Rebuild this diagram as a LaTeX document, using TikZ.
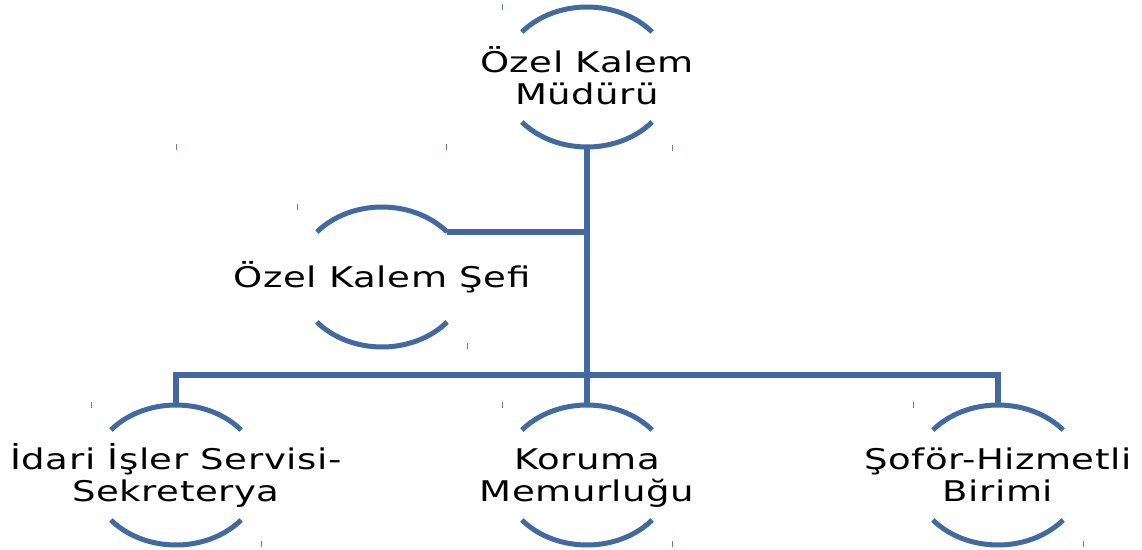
\documentclass[tikz,border=0pt]{standalone}
\usepackage{fontspec}
\setmainfont{DejaVu Sans}[FakeStretch=1.3,LetterSpace=2]
\usetikzlibrary{shapes.geometric}
\definecolor{ocblue}{RGB}{66,106,158}
\newcommand\hiph{\vphantom{Öİ}}
\newcommand\loph{\vphantom{yğ}}
\begin{document}
\begin{tikzpicture}[x=1pt,y=-1pt,
  unit/.style={ellipse, minimum width=170pt, minimum height=140pt, inner sep=0pt, draw=none},
  arcline/.style={draw=ocblue, line width=5pt},
  conn/.style={draw=ocblue, line width=6pt},
  lbl/.style={font=\fontsize{28.5pt}{32pt}\selectfont, align=center, inner sep=0pt, text=black},
  tickmark/.style={draw=ocblue!85, line width=1pt}]
\useasboundingbox (0,0) rectangle (1142,549);
% units
\node[unit] (top) at (587,77) {};
\node[unit] (chef) at (382,277) {};
\node[unit] (idari) at (176,475) {};
\node[unit] (koruma) at (587,475) {};
\node[unit] (sofor) at (998,475) {};
% arcs
\foreach \n in {top,chef,idari,koruma,sofor}{
  \draw[arcline] (\n.center) ++(220:85 and 70) arc[start angle=220,end angle=320,x radius=85,y radius=70];
  \draw[arcline] (\n.center) ++(40:85 and 70) arc[start angle=40,end angle=140,x radius=85,y radius=70];
}
% labels
\node[lbl] (topL) at ([yshift=-1pt]top.center) {\hiph Özel Kalem\\\loph Müdürü};
\node[lbl] (chefL) at (chef.center) {\hiph\loph Özel Kalem Şefi};
\node[lbl] (idariL) at (idari.center) {\hiph İdari İşler Servisi-\\\loph Sekreterya};
\node[lbl] (korumaL) at (koruma.center) {\hiph Koruma\\\loph Memurluğu};
\node[lbl] (soforL) at (sofor.center) {\hiph Şoför-Hizmetli\\\loph Birimi};
% connectors
\path (chef.center) ++(320:85 and 70) coordinate (chefTR);
\coordinate (bus) at (587,375);
\draw[conn] (top.south) -- (bus);
\draw[conn] (chefTR) -- (chefTR -| top.south);
\draw[conn] (idari.north) -- (idari.north |- bus) -- (sofor.north |- bus) -- (sofor.north);
\draw[conn] (bus) -- (koruma.north);
% corner ticks
\foreach \x/\y in {502/4,297/204,91/402,502/402,913/402}{
  \draw[tickmark] (\x,\y) -- ++(0,6);
}
\foreach \x/\y in {672/151,176/150,446/150,467/349,261/547,672/547,1083/547}{
  \draw[tickmark] (\x,\y) -- ++(0,-6);
}
\end{tikzpicture}
\end{document}
